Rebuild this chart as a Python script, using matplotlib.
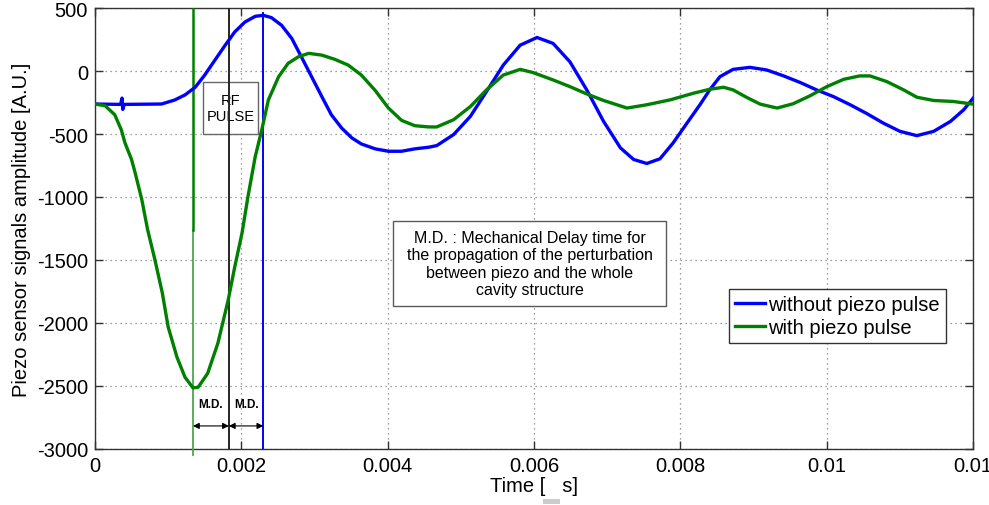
import matplotlib
matplotlib.use("Agg")
import matplotlib.pyplot as plt
from matplotlib.patches import Rectangle

plt.rcParams['font.family'] = ['Liberation Sans', 'DejaVu Sans']

# --- signal without piezo pulse (time in s, amplitude in A.U.) ---
t_without = [0.0, 0.00035, 0.00037, 0.00038, 0.00040, 0.00091, 0.00109, 0.00123,
             0.00137, 0.0015, 0.00164, 0.00178, 0.00191, 0.00205, 0.00219,
             0.0023, 0.00241, 0.00255, 0.00269, 0.00282, 0.00296, 0.0031,
             0.00323, 0.00337, 0.00351, 0.00364, 0.00383, 0.00401, 0.00419,
             0.00437, 0.00456, 0.00467, 0.0049, 0.00513, 0.00535, 0.00558,
             0.00581, 0.00604, 0.00626, 0.00649, 0.00672, 0.00695, 0.00718,
             0.00736, 0.00754, 0.00772, 0.0079, 0.00809, 0.00827, 0.0084,
             0.00854, 0.00872, 0.00895, 0.00918, 0.00941, 0.00964, 0.00986,
             0.01009, 0.01032, 0.01055, 0.01077, 0.011, 0.01123, 0.01146,
             0.01169, 0.01187, 0.012]
a_without = [-262, -265, -215, -305, -265, -262, -230, -190,
             -129, -32, 87, 205, 310, 389, 434,
             442, 424, 363, 258, 113, -45, -203,
             -347, -452, -531, -579, -618, -637, -637,
             -618, -605, -592, -505, -360, -163, 47,
             205, 266, 219, 73, -150, -400, -610,
             -702, -734, -697, -571, -413, -265, -150,
             -45, 13, 29, 8, -39, -92, -150,
             -203, -268, -339, -413, -479, -513, -479,
             -400, -308, -216]

# --- signal with piezo pulse ---
t_with = [0.0, 0.00014, 0.00027, 0.00036, 0.00041, 0.0005, 0.00055, 0.00064,
          0.00072, 0.00082, 0.00092, 0.0010, 0.00112, 0.00123, 0.00134,
          0.00141, 0.00154, 0.00168, 0.00182, 0.00191, 0.00201, 0.00209,
          0.00219, 0.00228, 0.00237, 0.00251, 0.00264, 0.00278, 0.00292,
          0.0031, 0.00328, 0.00346, 0.00364, 0.00383, 0.00401, 0.00419,
          0.00437, 0.00456, 0.00467, 0.0049, 0.00513, 0.00535, 0.00558,
          0.00581, 0.00599, 0.00626, 0.00649, 0.00672, 0.00695, 0.00727,
          0.00754, 0.00786, 0.00818, 0.0084, 0.00859, 0.00872, 0.0089,
          0.00909, 0.00932, 0.00954, 0.00977, 0.0100, 0.01023, 0.01045,
          0.01059, 0.01082, 0.01105, 0.01123, 0.01146, 0.01173, 0.012]
a_with = [-262, -276, -347, -466, -570, -702, -810, -1020,
          -1260, -1500, -1760, -2030, -2270, -2430, -2515,
          -2510, -2400, -2160, -1820, -1555, -1285, -1000,
          -680, -466, -229, -45, 61, 113, 140,
          126, 92, 47, -32, -155, -294, -392,
          -434, -444, -444, -387, -282, -150, -32,
          13, -13, -71, -124, -182, -234, -294,
          -268, -229, -176, -145, -129, -150, -208,
          -263, -294, -260, -197, -124, -66, -39,
          -39, -84, -150, -208, -234, -242, -263]

# event markers (s)
t_piezo = 0.00134
t_rf = 0.00183
t_response = 0.0023
piezo_spike_bottom = -1260
response_top = 460

x_ticks = [0, 0.002, 0.004, 0.006, 0.008, 0.010, 0.012]
x_tick_labels = ['0', '0.002', '0.004', '0.006', '0.008', '0.01', '0.01']
y_ticks = [-3000, -2500, -2000, -1500, -1000, -500, 0, 500]
y_tick_labels = ['-3000', '-2500', '-2000', '-1500', '-1000', '-500', '0', '500']

series_labels = ['without piezo pulse', 'with piezo pulse']
rf_text = 'RF\nPULSE'
md_text = ('M.D. : Mechanical Delay time for\nthe propagation of the perturbation\n'
           'between piezo and the whole\ncavity structure')

BLUE = (0, 0, 1)
GREEN = (0, 0.5, 0)

fig = plt.figure(figsize=(9.89, 5.06), dpi=100)
ax = fig.add_axes([0.096, 0.1107, 0.888, 0.8715])

ax.set_xlim(0, 0.012)
ax.set_ylim(-3000, 500)
ax.set_xticks(x_ticks)
ax.set_xticklabels(x_tick_labels)
ax.set_yticks(y_ticks)
ax.set_yticklabels(y_tick_labels)
ax.tick_params(direction='in', length=6, width=1, color='0.2', labelsize=14.5,
               top=True, right=True, pad=5)
for s in ax.spines.values():
    s.set_color('0.2')
    s.set_linewidth(1)
ax.grid(True, color='0.5', linestyle=(0, (1, 3)), linewidth=0.9)
ax.set_axisbelow(True)

# curves
l1, = ax.plot(t_without, a_without, color=BLUE, lw=2.4, zorder=6,
              solid_joinstyle='round')
l2, = ax.plot(t_with, a_with, color=GREEN, lw=2.4, zorder=6,
              solid_joinstyle='round')

# event marker lines
ax.plot([t_piezo, t_piezo], [-3050, piezo_spike_bottom], color=(0.3, 0.65, 0.3),
        lw=1.3, zorder=5, clip_on=False)
ax.plot([t_piezo, t_piezo], [piezo_spike_bottom, 500], color=GREEN, lw=1.8, zorder=5)
ax.plot([t_rf, t_rf], [-3000, 500], color='0.15', lw=1.4, zorder=5)
ax.plot([t_response, t_response], [-3000, response_top], color=BLUE, lw=1.4, zorder=5)

# RF pulse box
ax.add_patch(Rectangle((0.00148, -500), 0.00075, 413, facecolor='white',
                       edgecolor='0.4', lw=1, zorder=3))
ax.text(0.00185, -293, rf_text, ha='center', va='center', fontsize=10.5,
        linespacing=1.15, zorder=4)

# mechanical delay description box
ax.add_patch(Rectangle((0.00407, -1865), 0.00373, 675, facecolor='white',
                       edgecolor='0.35', lw=1, zorder=3))
ax.text(0.00594, -1527, md_text, ha='center', va='center', fontsize=11.5,
        linespacing=1.2, zorder=4)

# M.D. arrows
y_arrow = -2817
for a, b in [(t_piezo, t_rf), (t_rf, t_response)]:
    ax.annotate('', xy=(b, y_arrow), xytext=(a, y_arrow),
                arrowprops=dict(arrowstyle='<|-|>', color='black', lw=0.8,
                                mutation_scale=9, shrinkA=0, shrinkB=0),
                zorder=7)
    ax.text((a + b) / 2, -2645, 'M.D.', ha='center', va='center',
            fontsize=8.5, fontweight='bold', zorder=7)

ax.set_ylabel('Piezo sensor signals amplitude [A.U.]', fontsize=14.5, labelpad=4)
ax.set_xlabel('Time [   s]', fontsize=14.5, labelpad=1)
fig.add_artist(Rectangle((0.549, 0.002), 0.0172, 0.01, transform=fig.transFigure,
                         facecolor='0.8', edgecolor='none'))

leg = ax.legend([l1, l2], series_labels, loc='lower left',
                bbox_to_anchor=(0.722, 0.240), fontsize=14.5, fancybox=False,
                framealpha=1, edgecolor='0.2', handlelength=1.5,
                handletextpad=0.15, borderpad=0.3, labelspacing=0.2,
                borderaxespad=0)
leg.get_frame().set_linewidth(1)
leg.set_zorder(8)

fig.savefig('out.png', dpi=100)
